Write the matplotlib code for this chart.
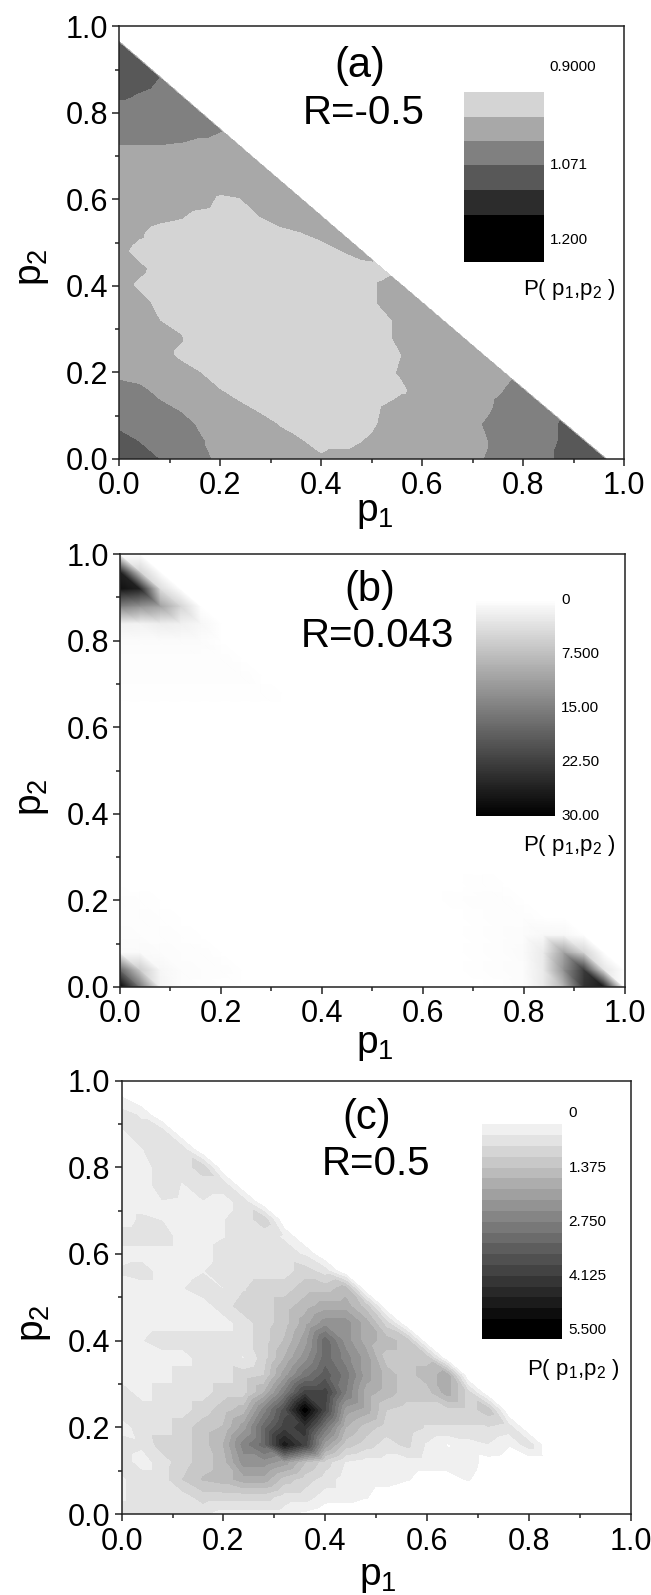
import matplotlib
matplotlib.use("Agg")
import matplotlib.pyplot as plt
import matplotlib.tri as mtri
import numpy as np
from matplotlib.colors import BoundaryNorm, ListedColormap
from matplotlib.ticker import MultipleLocator

plt.rcParams["font.family"] = ["Liberation Sans", "DejaVu Sans"]
plt.rcParams["mathtext.default"] = "regular"

W, H = 651, 1595
STEP = 0.04  # the simulation grid, 26 x 26
TICKS = [0.0, 0.2, 0.4, 0.6, 0.8, 1.0]

# P(p1,p2) on the grid, one row per p2 = 0, 0.04, ... ; missing points are 0
rows_a = [  # in units of 0.01
    [110, 109, 107, 105, 104, 102, 101, 100.5, 100, 99.5, 99, 100, 100, 100, 100, 100, 101, 102, 102.8, 104, 105, 106, 108, 110, 110],
    [109, 107, 105.5, 104, 103.2, 102, 100.5, 100, 99.5, 98.8, 97.5, 97.5, 98.5, 100, 100.5, 100.5, 101, 101.5, 102.4, 104, 105, 106, 107.5, 109],
    [106, 105.5, 105, 104, 102.5, 101, 100, 99.5, 98.4, 97, 96.5, 96.5, 97, 99, 100, 100.5, 101, 102, 102.9, 104, 105, 106, 107.5],
    [105, 104.5, 103.5, 102.5, 101.5, 100.5, 99, 98, 97, 96.5, 96, 96, 96.5, 98.6, 100, 100.5, 101, 101.5, 102.2, 103.5, 104.5, 105],
    [104, 103.5, 102, 101, 100, 98.6, 97.5, 96.5, 96, 96, 96, 96, 96, 96.5, 98, 100, 100.5, 101, 102, 102.8, 104],
    [102, 101.5, 101, 100, 98.6, 97.5, 97, 96.5, 96, 96, 96, 96, 96.5, 97.5, 99, 100, 100.5, 101, 101.5, 102],
    [101, 100.5, 100, 98, 97, 96.5, 96, 96, 96, 96, 96, 96, 96.5, 97, 98.6, 100, 100.5, 100.5, 101],
    [101, 100.5, 100, 98.9, 97, 96.5, 96, 96, 96, 96, 96, 96, 96.5, 97.5, 99.5, 100, 100.5, 101],
    [101, 100.5, 98.6, 97.5, 97, 96.5, 96, 96, 96, 96, 96, 96, 96.5, 97.5, 99.5, 100, 100.5],
    [101, 100, 97.5, 97, 96.5, 96, 96, 96, 96, 96, 96, 96.5, 97, 99, 100, 100.5],
    [100, 98, 97, 96.5, 96, 96, 96, 96, 96, 96, 96, 96.5, 97, 99, 100],
    [100.5, 99.2, 97.5, 97, 96.5, 96, 96, 96, 96, 96, 96, 96.5, 97, 97.5],
    [99.5, 97.5, 97, 96.5, 96, 96, 96, 96, 96, 96.5, 97, 98.5, 100],
    [100.5, 99, 97, 96.5, 96.5, 96.5, 96.5, 97, 97.5, 98.3, 99.5, 100],
    [101, 100.5, 99.5, 98.9, 97.5, 97, 97.5, 98.6, 100, 100.5, 101],
    [101.5, 101, 101, 100.5, 100, 98, 98.4, 100.5, 101, 101.5],
    [102, 102, 102, 101.5, 101, 100, 100, 101, 101.5],
    [102, 102, 102, 102, 102, 101.5, 101.5, 101.5],
    [102.7, 102.7, 102.7, 102.5, 102, 102, 102],
    [104, 104, 104, 104, 103.5, 103],
    [105, 105, 105, 105, 104.5],
    [107.8, 106.8, 106, 105.5],
    [109, 108.5, 107],
    [110, 109],
    [110],
]

rows_b = [
    [31, 16, 1.5, .4, .3, .2, .05, 0, 0, 0, 0, 0, 0, 0, 0, 0, 0, .03, .1, .2, .4, 2.5, 9, 24, 27],
    [18, 6, 1, .4, .3, .25, .1, 0, 0, 0, 0, 0, 0, 0, 0, 0, 0, .05, .15, .25, .4, 2.5, 13, 23, 3],
    [.7, .6, .4, .3, .25, .1, 0, 0, 0, 0, 0, 0, 0, 0, 0, 0, 0, .05, .15, .25, .5, 2.5, 11, 5],
    [.4, .35, .3, .2, .05, 0, 0, 0, 0, 0, 0, 0, 0, 0, 0, 0, 0, .1, .15, .25, .4, .9, 1],
    [.3, .3, .2, .1, 0, 0, 0, 0, 0, 0, 0, 0, 0, 0, 0, 0, 0, .1, .2, .25, .3],
    [.25, .15, .05, 0, 0, 0, 0, 0, 0, 0, 0, 0, 0, 0, 0, 0, 0, .2, .25, .25],
    [.1, .02, 0, 0, 0, 0, 0, 0, 0, 0, 0, 0, 0, 0, 0, 0, 0, .05, .2],
    [], [], [], [], [], [], [], [], [],
    [.03, .02, 0, 0, 0, 0, 0, .02, .03],
    [.18, .2, .15, .15, .15, .2, .2, .2],
    [.25, .25, .25, .25, .25, .25, .25],
    [.3, .3, .3, .3, .3, .3],
    [.5, .5, .5, .5, .4],
    [1.8, 1.6, 2.2, 1.8, 1],
    [15, 13, 11, 5],
    [28, 26, 4],
    [26, 5],
]

rows_c = [
    [.69, .69, .69, .69, .60, .41, .41, .41, .41, .20, .05],
    [.50, .69, .69, .69, .96, .96, .96, .96, .69, .69, .41, .41, .30, .10],
    [.50, .69, .69, 1.10, 1.40, 1.51, 1.79, 1.79, 1.24, .96, .69, .41, .41, .41, .30, .15, .15, .30, .10],
    [.69, .41, .69, .96, 1.24, 1.51, 2.34, 2.34, 2.06, 1.40, .96, .53, .41, .41, .41, .41, .41, .41, .15, .10, .05, .05],
    [.69, .60, .96, .96, 1.24, 1.65, 2.61, 3.16, 4.81, 3.99, 2.06, 1.24, .96, .69, .90, .50, .25, .41, .53, .30, .69],
    [.41, .69, .69, .96, 1.24, 1.40, 2.06, 3.16, 3.99, 4.26, 2.89, 1.65, 1.24, .96, .96, .80, .80, .80, .80, .69],
    [.69, .69, .69, .69, .96, 1.24, 1.51, 2.61, 3.71, 5.40, 3.85, 2.06, 1.79, 1.10, .96, .96, .96, .96, 1.24],
    [.69, .41, .69, .69, .69, .96, .96, 1.65, 2.75, 3.99, 3.99, 2.75, 1.79, 1.51, 1.24, 1.24, 1.79, .96],
    [.41, .41, .41, .69, .69, .69, .96, 1.10, 2.06, 2.89, 3.44, 2.89, 2.06, 1.51, 1.24, 1.51, 1.79],
    [.41, .41, .41, .41, .69, .69, .53, .96, 1.65, 2.34, 3.16, 2.61, 2.06, 1.24, 1.24, 1.24],
    [.41, .53, .69, .69, .69, .69, .69, .96, 1.40, 2.06, 3.16, 2.34, 1.79, 1.51, 1.24],
    [.41, .41, .41, .41, .41, .41, .69, .96, 1.24, 1.79, 2.34, 2.34, 1.79, .96],
    [.41, .41, .41, .41, .41, .69, .96, .96, 1.24, 1.51, 1.79, 1.79, 1.24],
    [.41, .41, .41, .53, .69, .54, .80, .96, .96, 1.24, 1.24, 1.51],
    [.60, .69, .41, .41, .53, .69, .69, .69, .69, .96, .69],
    [.41, .41, .41, .41, .41, .69, .69, .69, .69, .50],
    [.69, .69, .69, .41, .41, .53, .69, .69, .50],
    [.41, .60, .53, .41, .41, .53, .69, .96],
    [.41, .41, .53, .50, .53, .41, .69],
    [.41, .41, .69, .53, .69, .69],
    [.41, .41, .69, .69, .96],
    [.41, .53, .69, .69],
    [.50, .69, .69],
    [.69, .50],
    [.30],
]

levels_a = [0, .943, .986, 1.029, 1.071, 1.114, 1.157]
colors_a = ["#ffffff", "#d4d4d4", "#a8a8a8", "#808080", "#585858", "#2c2c2c", "#000000"]
levels_c = [.275 * k for k in range(20)]
grays_c = np.linspace(240, 0, 19) / 255
colors_c = ["#ffffff"] + [(g, g, g) for g in grays_c]

labels_a = [(.9, "0.9000"), (1.071, "1.071"), (1.2, "1.200")]
labels_b = [(0, "0"), (7.5, "7.500"), (15, "15.00"), (22.5, "22.50"), (30, "30.00")]
labels_c = [(0, "0"), (1.375, "1.375"), (2.75, "2.750"), (4.125, "4.125"), (5.5, "5.500")]


def px_axes(left, top, right, bottom):
    return fig.add_axes([left / W, 1 - bottom / H, (right - left) / W, (bottom - top) / H])


def to_grid(rows, scale=1.0):
    n = 26
    z = np.zeros((n, n))
    for j, row in enumerate(rows):
        z[j, :len(row)] = np.array(row, dtype=float) * scale
    return z


def triangulation():
    # cells are split along the anti-diagonal so the p1+p2 edge stays straight
    n = 26
    xs, ys = np.meshgrid(np.arange(n) * STEP, np.arange(n) * STEP)
    tris = []
    for j in range(n - 1):
        for i in range(n - 1):
            a = j * n + i
            tris.append([a, a + 1, a + n])
            tris.append([a + 1, a + n + 1, a + n])
    return mtri.Triangulation(xs.ravel(), ys.ravel(), tris)


def style_axes(ax):
    ax.set_xlim(0, 1)
    ax.set_ylim(0, 1)
    ax.set_xticks(TICKS)
    ax.set_yticks(TICKS)
    ax.xaxis.set_minor_locator(MultipleLocator(0.1))
    ax.yaxis.set_minor_locator(MultipleLocator(0.1))
    ax.tick_params(which="major", length=5, width=1.1, labelsize=22, color="#222222")
    ax.tick_params(which="minor", length=3, width=1.1, color="#222222")
    ax.tick_params(axis="x", which="major", pad=4)
    ax.tick_params(axis="y", which="major", pad=3)
    for s in ax.spines.values():
        s.set_linewidth(1.1)
        s.set_color("#222222")


def px_text(x, y, s, size, **kw):
    fig.text(x / W, 1 - y / H, s, fontsize=size, ha="center", va="center", **kw)


def colorbar(box, edges, ylim, z, cmap, norm, labels, text_x, text_y):
    cax = px_axes(*box)
    cax.pcolormesh([0, 1], edges, np.array(z).reshape(-1, 1), cmap=cmap, norm=norm, rasterized=True)
    cax.set_ylim(*ylim)
    cax.axis("off")
    for v, s in labels:
        cax.text(1.08, v, s, fontsize=11, va="center", ha="left",
                 transform=cax.get_yaxis_transform(), clip_on=False)
    px_text(text_x, text_y, "P( $p_1$,$p_2$ )", 16)


fig = plt.figure(figsize=(W / 100, H / 100), dpi=100)
tri = triangulation()

# (a)
ax = px_axes(119, 26.4, 624, 459)
ax.tricontourf(tri, to_grid(rows_a, 0.01).ravel(), levels=levels_a, colors=colors_a, extend="max")
style_axes(ax)
ax.text(.477, .908, "(a)", fontsize=30, ha="center", va="center")
ax.text(.485, .799, "R=-0.5", fontsize=29, ha="center", va="center")
px_text(375, 513, "$p_1$", 28)
px_text(33, 267, "$p_2$", 28, rotation=90)
edges = levels_a[1:] + [1.24]
mids = [(edges[k] + edges[k + 1]) / 2 for k in range(len(edges) - 1)]
colorbar((464, 92, 543.5, 262.5), edges, (1.24, .943), mids,
         ListedColormap(colors_a[1:]), BoundaryNorm(edges, 6), labels_a, 569, 290)

# (b)
ax = px_axes(120, 554, 624.5, 987)
ax.tripcolor(tri, to_grid(rows_b).ravel(), shading="gouraud", cmap="gray_r", vmin=0, vmax=30)
style_axes(ax)
ax.text(.496, .917, "(b)", fontsize=30, ha="center", va="center")
ax.text(.511, .811, "R=0.043", fontsize=29, ha="center", va="center")
px_text(375, 1045, "$p_1$", 28)
px_text(33, 797, "$p_2$", 28, rotation=90)
edges = np.linspace(.2, 30, 121)
colorbar((475.5, 601, 555, 815.5), edges, (30, .2), (edges[:-1] + edges[1:]) / 2,
         "gray_r", plt.Normalize(0, 30), labels_b, 569, 846)

# (c)
ax = px_axes(121.6, 1080.5, 630.7, 1514)
ax.tricontourf(tri, to_grid(rows_c).ravel(), levels=levels_c, colors=colors_c, extend="max")
style_axes(ax)
ax.text(.482, .913, "(c)", fontsize=30, ha="center", va="center")
ax.text(.499, .807, "R=0.5", fontsize=29, ha="center", va="center")
px_text(377.6, 1577, "$p_1$", 28)
px_text(35, 1323, "$p_2$", 28, rotation=90)
edges = levels_c[1:] + [5.5, 5.73]
mids = [(edges[k] + edges[k + 1]) / 2 for k in range(len(edges) - 1)]
colorbar((482, 1122, 562, 1339), edges, (5.73, .217), mids,
         ListedColormap([c for c in colors_c[1:]] + [(0, 0, 0)]), BoundaryNorm(edges, 20), labels_c, 573, 1370)

fig.savefig("out.png", dpi=100)
